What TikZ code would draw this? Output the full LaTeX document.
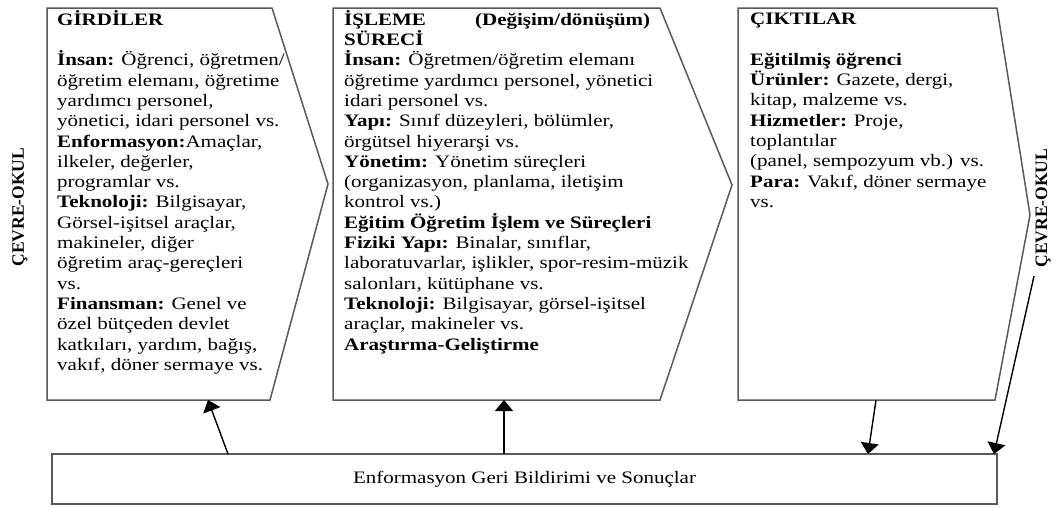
\documentclass[tikz,border=0pt]{standalone}
\usepackage{fontspec}
\setmainfont{Liberation Serif}[FakeStretch=1.2]
\newfontfamily\duzfont{Liberation Serif}
\usetikzlibrary{arrows.meta, positioning, calc}

\tikzset{
  kutu/.style={draw=black!65, line width=1.5pt, line join=miter},
  metin/.style={anchor=north west, inner sep=0pt, align=left,
    font=\fontsize{17.5}{20.3}\selectfont},
  ok/.style={-{Triangle[width=18pt,length=11pt]}, line width=1.4pt},
  cevre/.style={rotate=90, inner sep=0pt, font=\duzfont\bfseries\fontsize{17.5}{20}\selectfont}
}

\begin{document}
\begin{tikzpicture}[x=1pt, y=-1pt]
    \useasboundingbox (0,0) rectangle (1056,506);

    % Girdiler
    \draw[kutu] (47,8) -- (272,8) -- (328,184) -- (270,400) -- (47,400) -- cycle;
    \coordinate (girdi-alt) at (208,400);
    \node (girdi) [metin] at (57,10) {\vphantom{İÇ}\textbf{GİRDİLER}\\[20.3pt]
        \textbf{İnsan:} Öğrenci, öğretmen/\\
        öğretim elemanı, öğretime\\
        yardımcı personel,\\
        yönetici, idari personel vs.\\
        \textbf{Enformasyon:}Amaçlar,\\
        ilkeler, değerler,\\
        programlar vs.\\
        \textbf{Teknoloji:} Bilgisayar,\\
        Görsel-işitsel araçlar,\\
        makineler, diğer\\
        öğretim araç-gereçleri\\
        vs.\\
        \textbf{Finansman:} Genel ve\\
        özel bütçeden devlet\\
        katkıları, yardım, bağış,\\
        vakıf, döner sermaye vs.};

    % Isleme sureci
    \draw[kutu] (333,8) -- (660,8) -- (732,185) -- (660,400) -- (333,400) -- cycle;
    \coordinate (isleme-alt) at (504,400);
    \node (isleme) [metin] at (344,10) {\vphantom{İÇ}\hbox to 306pt{\textbf{İŞLEME}\hfill\textbf{(Değişim/dönüşüm)}}\\
        \textbf{SÜRECİ}\\
        \textbf{İnsan:} Öğretmen/öğretim elemanı\\
        öğretime yardımcı personel, yönetici\\
        idari personel vs.\\
        \textbf{Yapı:} Sınıf düzeyleri, bölümler,\\
        örgütsel hiyerarşi vs.\\
        \textbf{Yönetim:} Yönetim süreçleri\\
        (organizasyon, planlama, iletişim\\
        kontrol vs.)\\
        \textbf{Eğitim Öğretim İşlem ve Süreçleri}\\
        \textbf{Fiziki Yapı:} Binalar, sınıflar,\\
        laboratuvarlar, işlikler, spor-resim-müzik\\
        salonları, kütüphane vs.\\
        \textbf{Teknoloji:} Bilgisayar, görsel-işitsel\\
        araçlar, makineler vs.\\
        \textbf{Araştırma-Geliştirme}};

    % Ciktilar
    \draw[kutu] (738,8) -- (997,8) -- (1030,215) -- (995,400) -- (738,400) -- cycle;
    \coordinate (cikti-alt) at (876,400);
    \node (cikti) [metin] at (750,10) {\vphantom{İÇ}\textbf{ÇIKTILAR}\\[20.3pt]
        \textbf{Eğitilmiş öğrenci}\\
        \textbf{Ürünler:} Gazete, dergi,\\
        kitap, malzeme vs.\\
        \textbf{Hizmetler:} Proje,\\
        toplantılar\\
        (panel, sempozyum vb.) vs.\\
        \textbf{Para:} Vakıf, döner sermaye\\
        vs.};

    % Cevre
    \node (cevre-sol) [cevre] at (20,207) {ÇEVRE-OKUL};
    \node (cevre-sag) [cevre] at (1043,208) {ÇEVRE-OKUL};
    \coordinate (cevre-ok) at (1034,276);

    % Geri bildirim
    \node (geri) [kutu, minimum width=945pt, minimum height=50pt, inner sep=0pt,
        font=\fontsize{17.5}{20}\selectfont] at (524.5,479) {Enformasyon Geri Bildirimi ve Sonuçlar};
    \coordinate (geri-1) at (228,454);
    \coordinate (geri-2) at (504,454);
    \coordinate (geri-3) at (868,454);
    \coordinate (geri-4) at (994,454);

    \draw[ok] (geri-1) -- (girdi-alt);
    \draw[ok] (geri-2) -- (isleme-alt);
    \draw[ok] (cikti-alt) -- (geri-3);
    \draw[ok] (cevre-ok) -- (geri-4);
\end{tikzpicture}
\end{document}
